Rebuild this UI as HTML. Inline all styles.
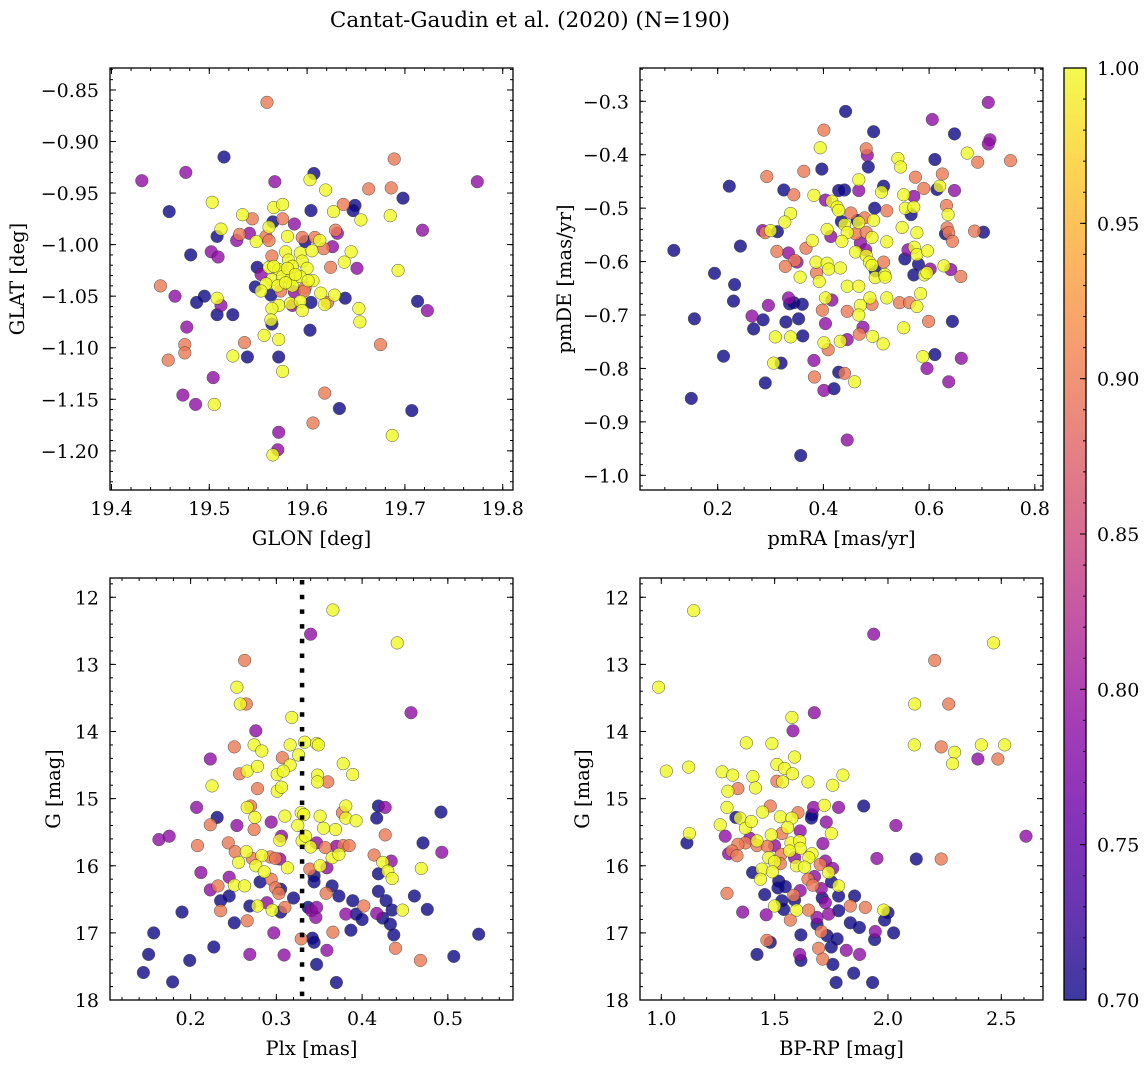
<!DOCTYPE html>
<html><head><meta charset="utf-8">
<style>
html,body{margin:0;padding:0;background:#fff;}
svg{display:block;font-family:"DejaVu Serif","Liberation Serif",serif;}
</style></head>
<body>
<svg id="fig" width="1148" height="1067" viewBox="0 0 1148 1067" xmlns="http://www.w3.org/2000/svg">
<defs>
<linearGradient id="plasmaGrad" x1="0" y1="1" x2="0" y2="0">
<stop offset="0" stop-color="#0d0887"/><stop offset="0.1" stop-color="#41049d"/><stop offset="0.2" stop-color="#6a00a8"/><stop offset="0.3" stop-color="#8f0da4"/><stop offset="0.4" stop-color="#b12a90"/><stop offset="0.5" stop-color="#cc4778"/><stop offset="0.6" stop-color="#e16462"/><stop offset="0.7" stop-color="#f2844b"/><stop offset="0.8" stop-color="#fca636"/><stop offset="0.9" stop-color="#fcce25"/><stop offset="1" stop-color="#f0f921"/>
</linearGradient>
</defs>
<text x="530" y="27" text-anchor="middle" font-size="21.5">Cantat-Gaudin et al. (2020) (N=190)</text>
</svg>
<script>
// ---------- Panel 1: GLON vs GLAT ----------
const p1Glon = [19.559,19.515,19.689,19.476,19.431,19.567,19.607,19.603,19.774,19.619,19.663,19.686,19.698,19.503,19.459,19.566,19.575,19.604,19.637,19.649,19.647,19.627,19.655,19.685,19.534,19.544,19.565,19.575,19.587,19.561,19.512,19.718,19.629,19.631,19.508,19.531,19.528,19.541,19.548,19.558,19.561,19.580,19.595,19.598,19.608,19.613,19.617,19.626,19.645,19.638,19.481,19.502,19.509,19.564,19.578,19.593,19.605,19.581,19.595,19.549,19.561,19.571,19.585,19.600,19.624,19.651,19.693,19.553,19.564,19.575,19.583,19.593,19.606,19.450,19.547,19.558,19.570,19.585,19.598,19.553,19.563,19.573,19.587,19.597,19.465,19.495,19.487,19.508,19.512,19.614,19.628,19.621,19.618,19.639,19.604,19.585,19.583,19.593,19.571,19.595,19.564,19.713,19.723,19.653,19.654,19.508,19.524,19.564,19.563,19.477,19.603,19.556,19.571,19.536,19.675,19.475,19.475,19.524,19.539,19.571,19.458,19.575,19.504,19.473,19.618,19.486,19.505,19.633,19.707,19.606,19.571,19.687,19.570,19.565,19.580,19.588,19.578,19.601,19.566];
const p1Glat = [-0.862,-0.915,-0.917,-0.930,-0.938,-0.939,-0.931,-0.937,-0.939,-0.947,-0.946,-0.945,-0.955,-0.959,-0.968,-0.964,-0.961,-0.967,-0.961,-0.962,-0.967,-0.968,-0.976,-0.972,-0.971,-0.975,-0.978,-0.975,-0.980,-0.983,-0.985,-0.986,-0.986,-0.989,-0.992,-0.990,-0.996,-0.989,-0.997,-0.992,-0.996,-0.992,-0.993,-0.997,-0.993,-0.996,-1.004,-1.002,-1.007,-1.017,-1.010,-1.007,-1.012,-1.011,-1.007,-1.008,-1.006,-1.015,-1.016,-1.022,-1.022,-1.024,-1.021,-1.023,-1.022,-1.023,-1.025,-1.029,-1.034,-1.031,-1.034,-1.031,-1.035,-1.040,-1.041,-1.038,-1.040,-1.040,-1.042,-1.045,-1.049,-1.045,-1.046,-1.045,-1.050,-1.050,-1.056,-1.052,-1.059,-1.047,-1.049,-1.056,-1.058,-1.052,-1.056,-1.059,-1.057,-1.055,-1.059,-1.064,-1.062,-1.055,-1.064,-1.062,-1.075,-1.068,-1.068,-1.077,-1.073,-1.080,-1.083,-1.088,-1.092,-1.095,-1.097,-1.097,-1.105,-1.108,-1.109,-1.109,-1.112,-1.123,-1.129,-1.146,-1.144,-1.155,-1.155,-1.159,-1.161,-1.173,-1.182,-1.185,-1.199,-1.204,-1.023,-1.029,-1.037,-1.035,-1.021];
const p1Prob = [0.9,0.7,0.9,0.79,0.79,0.79,0.7,1,0.79,1,0.9,0.9,0.7,1,0.7,1,1,0.7,0.9,0.7,0.7,1,1,1,1,0.9,0.7,0.9,0.79,1,1,0.79,0.9,0.79,0.7,0.9,0.79,0.79,1,0.9,0.9,1,0.9,0.7,0.9,1,0.9,0.79,1,1,0.7,0.79,0.79,0.9,1,1,1,1,1,0.7,1,1,1,1,0.9,0.79,1,0.79,1,1,1,1,1,0.9,0.7,1,1,1,0.9,1,0.7,0.9,0.79,0.9,0.79,0.7,0.7,1,0.79,1,1,0.9,1,0.7,0.7,0.79,1,1,1,1,1,0.7,0.79,1,1,0.7,0.7,0.7,1,0.79,0.7,1,1,0.9,0.9,0.9,0.9,1,0.7,0.7,0.9,1,0.79,0.79,0.9,0.79,1,0.7,0.7,0.9,0.79,1,0.79,1,1,1,1,1,1];
const p1XTicks = [19.4,19.5,19.6,19.7,19.8];
const p1YTicks = [-0.85,-0.90,-0.95,-1.00,-1.05,-1.10,-1.15,-1.20];

// ---------- Panel 2: pmRA vs pmDE ----------
const p2Pmra = [0.442,0.606,0.712,0.495,0.648,0.401,0.394,0.715,0.712,0.481,0.483,0.541,0.546,0.611,0.672,0.692,0.754,0.397,0.485,0.363,0.293,0.222,0.625,0.574,0.467,0.590,0.620,0.615,0.648,0.325,0.344,0.382,0.429,0.440,0.467,0.514,0.510,0.552,0.571,0.404,0.416,0.426,0.429,0.497,0.520,0.555,0.571,0.633,0.636,0.566,0.338,0.327,0.452,0.434,0.440,0.445,0.464,0.467,0.478,0.495,0.461,0.481,0.407,0.414,0.549,0.577,0.634,0.631,0.637,0.644,0.686,0.703,0.285,0.300,0.290,0.313,0.243,0.379,0.367,0.312,0.334,0.346,0.350,0.328,0.435,0.461,0.470,0.480,0.492,0.520,0.481,0.487,0.492,0.514,0.498,0.498,0.516,0.517,0.554,0.560,0.572,0.577,0.597,0.580,0.571,0.602,0.591,0.596,0.628,0.641,0.660,0.584,0.577,0.544,0.563,0.552,0.599,0.644,0.611,0.661,0.588,0.596,0.637,0.117,0.194,0.232,0.230,0.156,0.265,0.268,0.286,0.296,0.211,0.150,0.290,0.306,0.320,0.309,0.329,0.338,0.334,0.336,0.344,0.360,0.353,0.361,0.356,0.386,0.392,0.387,0.407,0.410,0.432,0.445,0.467,0.404,0.416,0.398,0.404,0.401,0.409,0.382,0.383,0.401,0.420,0.429,0.440,0.459,0.445,0.470,0.488,0.492,0.467,0.475,0.468,0.432,0.445,0.493,0.513,0.520,0.445,0.357];
const p2Pmde = [-0.319,-0.334,-0.302,-0.357,-0.361,-0.354,-0.387,-0.372,-0.380,-0.389,-0.401,-0.407,-0.423,-0.409,-0.397,-0.414,-0.411,-0.427,-0.423,-0.431,-0.441,-0.459,-0.436,-0.442,-0.447,-0.463,-0.459,-0.465,-0.467,-0.466,-0.475,-0.476,-0.467,-0.466,-0.467,-0.459,-0.470,-0.475,-0.478,-0.485,-0.487,-0.498,-0.504,-0.500,-0.505,-0.500,-0.498,-0.495,-0.512,-0.512,-0.510,-0.526,-0.509,-0.525,-0.531,-0.546,-0.523,-0.527,-0.518,-0.523,-0.548,-0.545,-0.540,-0.553,-0.536,-0.546,-0.537,-0.548,-0.546,-0.562,-0.543,-0.545,-0.542,-0.542,-0.546,-0.544,-0.571,-0.561,-0.575,-0.581,-0.584,-0.598,-0.601,-0.609,-0.562,-0.582,-0.565,-0.578,-0.555,-0.563,-0.589,-0.601,-0.607,-0.601,-0.617,-0.630,-0.624,-0.629,-0.595,-0.578,-0.573,-0.587,-0.580,-0.605,-0.625,-0.614,-0.625,-0.621,-0.608,-0.615,-0.628,-0.660,-0.684,-0.677,-0.677,-0.724,-0.712,-0.712,-0.774,-0.781,-0.778,-0.800,-0.825,-0.579,-0.622,-0.643,-0.674,-0.707,-0.702,-0.726,-0.709,-0.682,-0.777,-0.856,-0.827,-0.790,-0.790,-0.741,-0.713,-0.741,-0.668,-0.679,-0.677,-0.680,-0.707,-0.739,-0.629,-0.601,-0.637,-0.621,-0.603,-0.614,-0.612,-0.646,-0.646,-0.668,-0.672,-0.691,-0.716,-0.752,-0.765,-0.785,-0.816,-0.841,-0.838,-0.807,-0.809,-0.825,-0.693,-0.682,-0.668,-0.680,-0.700,-0.723,-0.736,-0.749,-0.746,-0.740,-0.754,-0.668,-0.934,-0.963];
const p2Prob = [0.7,0.79,0.79,0.7,0.7,0.9,1,0.79,0.79,0.9,0.79,1,1,0.7,1,0.9,0.9,0.7,0.7,0.9,0.9,0.7,0.9,0.9,1,0.9,1,0.7,0.79,0.7,0.9,1,0.7,0.7,0.79,0.7,1,1,0.79,0.79,1,1,1,0.7,0.9,1,1,0.9,1,0.7,1,1,0.9,0.7,1,1,0.7,1,0.9,1,0.9,0.9,1,0.79,1,1,0.9,0.7,0.9,0.9,0.9,0.7,0.79,1,0.9,0.7,0.7,1,0.9,0.9,0.79,0.9,0.79,0.9,1,1,0.79,0.79,1,1,1,1,1,0.9,0.7,1,1,1,0.7,0.79,1,1,1,0.7,0.7,0.79,1,1,1,0.79,0.9,1,1,0.9,0.9,1,0.9,0.7,0.7,0.79,1,0.79,0.79,0.7,0.7,0.7,0.7,0.7,0.79,0.7,0.7,0.79,0.7,0.7,0.7,1,0.7,1,0.7,1,0.79,0.7,0.7,0.7,0.7,0.7,1,1,1,0.9,1,1,1,1,1,1,0.79,0.9,0.79,1,0.9,0.79,0.9,0.79,0.7,0.7,0.9,1,0.9,1,1,0.9,1,0.79,0.9,1,0.79,1,1,1,0.79,0.7];
const p2XTicks = [0.2,0.4,0.6,0.8];
const p2YTicks = [-0.3,-0.4,-0.5,-0.6,-0.7,-0.8,-0.9,-1.0];

// ---------- Panel 3: Plx vs G ----------
const p3Plx = [0.366,0.340,0.441,0.263,0.254,0.258,0.265,0.457,0.318,0.276,0.251,0.274,0.283,0.316,0.333,0.347,0.349,0.307,0.326,0.316,0.223,0.257,0.266,0.278,0.301,0.308,0.301,0.306,0.348,0.348,0.360,0.378,0.389,0.278,0.225,0.207,0.231,0.223,0.254,0.266,0.270,0.275,0.274,0.294,0.310,0.329,0.332,0.325,0.351,0.377,0.381,0.381,0.393,0.355,0.369,0.419,0.427,0.417,0.492,0.163,0.175,0.208,0.244,0.252,0.265,0.256,0.272,0.283,0.293,0.299,0.304,0.306,0.304,0.330,0.334,0.340,0.347,0.357,0.370,0.378,0.385,0.365,0.373,0.427,0.471,0.493,0.414,0.424,0.434,0.430,0.435,0.419,0.469,0.212,0.245,0.251,0.263,0.223,0.232,0.276,0.286,0.313,0.281,0.294,0.299,0.305,0.303,0.320,0.339,0.344,0.344,0.351,0.359,0.365,0.358,0.373,0.389,0.402,0.393,0.400,0.381,0.417,0.419,0.428,0.435,0.447,0.461,0.476,0.424,0.433,0.437,0.235,0.245,0.235,0.269,0.278,0.289,0.295,0.305,0.310,0.190,0.251,0.266,0.341,0.346,0.347,0.337,0.387,0.366,0.297,0.157,0.536,0.227,0.151,0.199,0.269,0.309,0.329,0.342,0.344,0.359,0.439,0.468,0.507,0.347,0.145,0.179,0.370];
const p3G = [12.19,12.55,12.68,12.94,13.34,13.59,13.59,13.72,13.79,13.99,14.23,14.20,14.29,14.20,14.16,14.18,14.20,14.39,14.35,14.50,14.41,14.63,14.59,14.52,14.64,14.59,14.89,14.83,14.65,14.75,14.75,14.48,14.64,14.85,14.81,15.13,15.28,15.39,15.40,15.13,15.11,15.28,15.46,15.35,15.26,15.21,15.24,15.40,15.26,15.21,15.11,15.29,15.33,15.44,15.46,15.11,15.13,15.29,15.20,15.61,15.56,15.70,15.66,15.79,15.79,15.95,15.89,15.85,15.87,15.89,15.90,15.56,15.62,15.63,15.56,15.72,15.66,15.73,15.71,15.70,15.70,15.88,15.83,15.54,15.66,15.80,15.84,15.95,15.93,16.08,16.19,16.12,16.04,16.10,16.17,16.29,16.30,16.36,16.30,16.00,16.09,16.03,16.24,16.20,16.33,16.35,16.41,16.48,16.05,16.15,16.24,16.00,16.03,16.30,16.41,16.45,16.52,16.60,16.72,16.80,16.72,16.71,16.38,16.52,16.66,16.66,16.45,16.65,16.78,16.87,17.03,16.52,16.45,16.67,16.60,16.60,16.55,16.66,16.69,16.62,16.69,16.85,16.82,16.67,16.77,16.62,16.62,16.96,16.99,17.00,17.00,17.02,17.21,17.32,17.41,17.32,17.33,17.09,17.08,17.14,17.26,17.23,17.41,17.35,17.47,17.59,17.73,17.74];
const p3Prob = [1,0.79,1,0.9,1,1,0.9,0.79,1,0.79, 0.9,1,1,1,1,1,1,0.9,1,1, 0.79,0.9,1,1,1,1,1,1,1,1, 0.9,1,1,0.9,1,0.79,0.7,0.9,0.79,1, 0.9,1,0.9,0.79,1,1,1,1,1,0.9, 1,1,1,1,1,0.7,0.79,0.7,0.7,0.79, 0.79,0.9,0.9,0.9,1,1,0.9,1,0.9,0.9, 0.79,0.79,1,1,1,1,0.79,0.9,0.79,0.9, 0.9,1,1,0.9,0.7,0.79,0.9,1,0.79,1, 1,0.7,1,0.79,0.79,1,1,0.79,0.9,1, 1,1,0.7,0.9,0.9,0.7,0.9,0.7,0.9,0.7, 0.7,1,0.79,0.7,0.9,0.7,0.7,0.9,0.7,0.7, 0.79,0.79,0.7,0.7,0.7,1,0.7,0.7,0.7,0.7, 0.7,0.7,0.7,0.9,0.7,1,0.79,1,0.7,0.9, 0.7,0.7,0.9,0.79,0.79,0.79,0.7,0.7,0.9,0.79, 0.7,0.7,0.7,0.7,0.7,0.79,0.79,0.9,0.7,0.7, 0.79,0.9,0.9,0.7,0.7,0.7,0.7,0.7];
const p3XTicks = [0.2,0.3,0.4,0.5];
const p3YTicks = [12,13,14,15,16,17,18];
const p3Ref = [0.33];

// ---------- Panel 4: BP-RP vs G ----------
const p4BpRp = [1.143,1.937,2.466,2.206,0.988,2.118,2.268,1.675,1.576,1.581,1.375,1.488,2.116,2.235,2.412,2.515,2.294,2.285,2.397,2.485,1.588,1.022,1.121,1.268,1.315,1.510,1.544,1.579,1.510,1.535,1.647,1.404,1.415,1.338,1.294,1.801,1.756,1.290,1.481,1.603,1.719,1.672,1.665,1.662,1.782,1.893,1.728,2.035,2.609,1.329,1.347,1.260,1.371,1.397,1.447,1.525,1.576,1.557,1.532,1.485,1.613,1.750,1.282,1.124,1.113,1.391,1.371,1.338,1.312,1.297,1.334,1.422,1.422,1.468,1.500,1.572,1.610,1.613,1.566,1.529,1.665,1.651,1.474,1.500,1.525,1.588,1.597,1.632,1.701,1.713,1.724,1.756,1.738,1.951,2.125,2.235,1.403,1.444,1.490,1.437,1.518,1.515,1.547,1.647,1.669,1.676,1.706,1.751,1.782,1.290,1.456,1.613,1.584,1.532,1.588,1.710,1.724,1.782,1.853,1.359,1.463,1.500,1.540,1.597,1.650,1.569,1.687,1.738,1.782,1.834,1.900,1.981,2.000,1.985,1.687,1.834,1.874,1.706,1.731,1.776,1.944,1.941,2.025,1.616,1.466,1.481,1.694,1.750,1.816,1.875,1.422,1.610,1.616,1.712,1.757,1.849,1.771,1.932];
const p4G = [12.20,12.55,12.68,12.94,13.34,13.59,13.59,13.72,13.79,13.99,14.17,14.18,14.20,14.23,14.20,14.20,14.31,14.48,14.41,14.41,14.38,14.59,14.53,14.60,14.65,14.49,14.55,14.63,14.74,14.75,14.75,14.67,14.84,14.85,14.89,14.65,14.80,15.13,15.11,15.21,15.10,15.13,15.24,15.29,15.13,15.11,15.35,15.40,15.56,15.28,15.29,15.39,15.44,15.34,15.20,15.27,15.29,15.43,15.52,15.54,15.48,15.52,15.56,15.52,15.66,15.59,15.66,15.68,15.78,15.82,15.85,15.63,15.70,15.71,15.70,15.66,15.63,15.74,15.78,15.83,15.82,15.88,15.88,15.94,15.97,15.88,16.00,16.02,15.98,15.67,15.93,16.04,16.10,15.89,15.90,15.90,16.10,16.05,16.09,16.20,16.23,16.33,16.31,16.20,16.29,16.16,16.34,16.24,16.30,16.41,16.43,16.37,16.44,16.52,16.51,16.48,16.55,16.45,16.45,16.69,16.73,16.60,16.65,16.66,16.66,16.81,16.77,16.72,16.67,16.60,16.62,16.66,16.70,16.81,16.87,16.85,16.92,16.98,17.04,17.09,16.98,17.10,17.00,17.03,17.11,17.14,17.23,17.21,17.26,17.32,17.32,17.32,17.41,17.39,17.47,17.60,17.74,17.74];
const p4Prob = [1,0.79,1,0.9,1,1,0.9,0.79,1,0.79, 1,1,1,0.9,1,1,1,1,0.79,0.9, 1,1,1,1,1,1,1,1,0.9,1, 1,1,1,0.9,1,1,1,1,0.9,0.9, 1,0.79,0.7,0.7,0.79,0.7,0.79,0.79,0.79,0.7, 1,1,1,1,1,1,1,1,0.9,1, 0.79,1,0.79,1,0.7,0.79,0.9,0.9,0.9,0.79, 0.9,1,0.9,0.9,0.79,1,1,1,1,0.9, 1,1,1,1,0.9,0.79,1,1,0.9,0.79, 0.79,0.79,1,0.79,0.7,0.9,0.7,1,1,1, 0.7,0.7,0.7,0.9,0.9,0.79,0.79,0.7,1,0.9, 0.7,0.79,0.9,0.7,0.7,0.7,0.79,0.7,0.7,0.79, 0.79,1,0.7,1,0.9,0.9,0.79,0.79,0.7,0.9, 0.9,1,0.7,0.7,0.7,0.7,0.7,0.9,0.7,0.7, 0.79,0.7,0.7,0.7,0.9,0.7,0.9,0.7,0.79,0.79, 0.7,0.79,0.7,0.9,0.7,0.7,0.7,0.7];
const p4XTicks = [1.0,1.5,2.0,2.5];
const p4YTicks = [12,13,14,15,16,17,18];

// ---------- Colorbar ----------
const cbTicks = [0.70,0.75,0.80,0.85,0.90,0.95,1.00];
const cbRange = [0.70,1.00];

const NS = 'http://www.w3.org/2000/svg';
const svg = document.getElementById('fig');
const plasma = ['#0d0887','#41049d','#6a00a8','#8f0da4','#b12a90','#cc4778','#e16462','#f2844b','#fca636','#fcce25','#f0f921'];
function hex(c){return [parseInt(c.slice(1,3),16),parseInt(c.slice(3,5),16),parseInt(c.slice(5,7),16)];}
function cmap(p){
  if(typeof p!=='number'||isNaN(p)) p=cbRange[0];
  let t=(p-cbRange[0])/(cbRange[1]-cbRange[0]); t=Math.max(0,Math.min(1,t));
  const f=t*10, i=Math.min(9,Math.floor(f)), u=f-i;
  const a=hex(plasma[i]), b=hex(plasma[i+1]);
  return 'rgb('+a.map((v,k)=>Math.round(v+(b[k]-v)*u)).join(',')+')';
}
function mk(tag, attrs, parent){
  const e=document.createElementNS(NS,tag);
  for(const k in attrs) e.setAttribute(k, attrs[k]);
  (parent||svg).appendChild(e); return e;
}
function fmt(v,d){const s=v.toFixed(d); return s.replace('-','\u2212');}

function panel(name, box, xd, yd, xt, yt, xMinStep, yMinStep, xDec, yDec, xs, ys, ps, xLabel, yLabel, yLabelX){
  const g=mk('g',{});
  
  
  const sx=v=>box.l+(v-xd[0])/(xd[1]-xd[0])*(box.r-box.l);
  const sy=v=>box.b-(v-yd[0])/(yd[1]-yd[0])*(box.b-box.t);
  const pg=mk('g',{},g);
  
  
  const n=Math.min(xs.length, ys.length);
  const idx=[]; for(let i=0;i<n;i++) idx.push(i);
  idx.sort((a,b)=>(ps[a]||0.7)-(ps[b]||0.7));
  idx.forEach(i=>{
    const c=mk('circle',{cx:sx(xs[i]).toFixed(1),cy:sy(ys[i]).toFixed(1),r:6.3,fill:cmap(ps[i]),stroke:'#222','stroke-width':0.5,opacity:0.8},pg);
    
    
  });
  const tg=mk('g',{stroke:'#000','stroke-width':1},g);
  const lo=Math.min(xd[0],xd[1]), hi=Math.max(xd[0],xd[1]);
  for(let k=Math.ceil(lo/xMinStep-1e-6);k*xMinStep<=hi+1e-9;k++){
    const x=sx(k*xMinStep);
    mk('line',{x1:x,x2:x,y1:box.b,y2:box.b-3},tg); mk('line',{x1:x,x2:x,y1:box.t,y2:box.t+3},tg);
  }
  const ylo=Math.min(yd[0],yd[1]), yhi=Math.max(yd[0],yd[1]);
  for(let k=Math.ceil(ylo/yMinStep-1e-6);k*yMinStep<=yhi+1e-9;k++){
    const y=sy(k*yMinStep);
    mk('line',{x1:box.l,x2:box.l+3,y1:y,y2:y},tg); mk('line',{x1:box.r,x2:box.r-3,y1:y,y2:y},tg);
  }
  xt.forEach(v=>{
    const x=sx(v);
    mk('line',{x1:x,x2:x,y1:box.b,y2:box.b-6},tg); mk('line',{x1:x,x2:x,y1:box.t,y2:box.t+6},tg);
    const t=mk('text',{x:x,y:box.b+25,'text-anchor':'middle','font-size':19},g); t.textContent=fmt(v,xDec);
    
    
  });
  yt.forEach(v=>{
    const y=sy(v);
    mk('line',{x1:box.l,x2:box.l+6,y1:y,y2:y},tg); mk('line',{x1:box.r,x2:box.r-6,y1:y,y2:y},tg);
    const t=mk('text',{x:box.l-11,y:y+7,'text-anchor':'end','font-size':19},g); t.textContent=fmt(v,yDec);
    
    
  });
  const fr=mk('rect',{x:box.l,y:box.t,width:box.r-box.l,height:box.b-box.t,fill:'none',stroke:'#000','stroke-width':1.3},g);
  
  
  const xl=mk('text',{x:(box.l+box.r)/2,y:box.b+55,'text-anchor':'middle','font-size':19.5},g); xl.textContent=xLabel;
  
  
  const cy=(box.t+box.b)/2;
  const yl=mk('text',{x:yLabelX,y:cy,'text-anchor':'middle','font-size':19.5,transform:'rotate(-90 '+yLabelX+' '+cy+')'},g); yl.textContent=yLabel;
  
  
  return {sx,sy,g};
}

panel('panel-glon-glat',{l:110,r:513,t:68,b:490},[19.3985,19.8105],[-1.238,-0.8287],p1XTicks,p1YTicks,0.02,0.01,1,2,p1Glon,p1Glat,p1Prob,'GLON [deg]','GLAT [deg]',24);
panel('panel-pm',{l:640,r:1043,t:68,b:490},[0.053,0.8155],[-1.0275,-0.2377],p2XTicks,p2YTicks,0.05,0.02,1,1,p2Pmra,p2Pmde,p2Prob,'pmRA [mas/yr]','pmDE [mas/yr]',571);
const p3=panel('panel-plx-g',{l:110,r:513,t:578,b:1000},[0.106,0.576],[18,11.713],p3XTicks,p3YTicks,0.02,0.2,1,0,p3Plx,p3G,p3Prob,'Plx [mas]','G [mag]',60);
panel('panel-cmd',{l:640,r:1043,t:578,b:1000},[0.906,2.684],[18,11.713],p4XTicks,p4YTicks,0.1,0.2,1,0,p4BpRp,p4G,p4Prob,'BP-RP [mag]','G [mag]',589);

p3Ref.forEach(v=>{
  const x=p3.sx(v);
  const l=mk('line',{x1:x,x2:x,y1:580,y2:1000,stroke:'#000','stroke-width':4.5,'stroke-dasharray':'4.5 10.2'},p3.g);
  
  
});

const cb={l:1064,r:1086,t:68,b:1000};
const cbg=mk('g',{});


mk('rect',{x:cb.l,y:cb.t,width:cb.r-cb.l,height:cb.b-cb.t,fill:'url(#plasmaGrad)',opacity:0.8},cbg);
const cby=v=>cb.b-(v-cbRange[0])/(cbRange[1]-cbRange[0])*(cb.b-cb.t);
for(let k=70;k<=100;k++){
  const y=cby(k/100);
  mk('line',{x1:cb.r,x2:cb.r-3,y1:y,y2:y,stroke:'#000','stroke-width':1},cbg);
}
cbTicks.forEach(v=>{
  const y=cby(v);
  mk('line',{x1:cb.r,x2:cb.r-6,y1:y,y2:y,stroke:'#000','stroke-width':1},cbg);
  const t=mk('text',{x:cb.r+11,y:y+7,'font-size':19},cbg); t.textContent=v.toFixed(2);
  
  
});
mk('rect',{x:cb.l,y:cb.t,width:cb.r-cb.l,height:cb.b-cb.t,fill:'none',stroke:'#000','stroke-width':1.3},cbg);
</script>
</body></html>
